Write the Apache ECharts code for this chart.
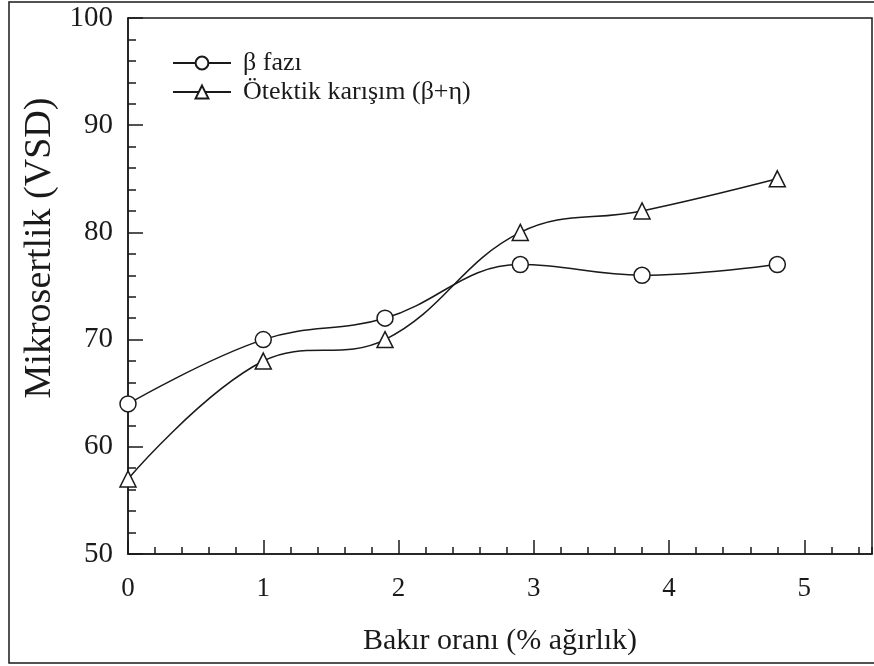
<!DOCTYPE html>
<html>
<head>
<meta charset="utf-8">
<script src="https://cdn.jsdelivr.net/npm/echarts@6/dist/echarts.min.js"></script>
<style>html,body{margin:0;padding:0;background:#fff;}#c{width:874px;height:666px;}</style>
</head>
<body>
<div id="c"></div>
<script>
const xValues = [0, 1, 1.9, 2.9, 3.8, 4.8];
const betaValues = [64, 70, 72, 77, 76, 77];
const eutecticValues = [57, 68, 70, 80, 82, 85];
const seriesNames = ['β fazı', 'Ötektik karışım (β+η)'];
const xTitle = 'Bakır oranı (% ağırlık)';
const yTitle = 'Mikrosertlik (VSD)';

const FONT = 'Liberation Serif';
const INK = '#1a1a1a';
const chart = echarts.init(document.getElementById('c'), null, {renderer: 'canvas'});

function pairs(ys) { return xValues.map((x, i) => [x, ys[i]]); }

const lineStyle = {color: INK, width: 1.5};
const itemStyle = {color: '#fff', borderColor: INK, borderWidth: 1.5};

chart.setOption({
  backgroundColor: '#fff',
  animation: false,
  grid: {left: 128, right: 2, top: 18, bottom: 112, show: true, borderColor: INK, borderWidth: 1.5, backgroundColor: 'transparent'},
  legend: {
    orient: 'vertical', left: 172, top: 50, padding: 0, itemWidth: 58, itemHeight: 16, itemGap: 3,
    textStyle: {fontFamily: FONT, fontSize: 26, color: INK, padding: [0, 0, 0, 7]},
    data: seriesNames
  },
  xAxis: [{
    type: 'value', min: 0, max: 5.5, interval: 1,
    axisLine: {show: true, lineStyle: {color: INK, width: 1.5}},
    axisTick: {show: true, inside: true, length: 14, lineStyle: {color: INK, width: 1.5}},
    minorTick: {show: false},
    splitLine: {show: false},
    axisLabel: {fontFamily: FONT, fontSize: 27, color: INK, margin: 21, showMaxLabel: false},
    name: xTitle, nameLocation: 'middle', nameGap: 72,
    nameTextStyle: {fontFamily: FONT, fontSize: 30, color: INK}
  }, {
    type: 'value', min: 0, max: 5.5, interval: 0.2, position: 'bottom',
    axisLine: {show: false},
    axisTick: {show: true, inside: true, length: 7, lineStyle: {color: INK, width: 1.5}},
    splitLine: {show: false},
    axisLabel: {show: false}
  }],
  yAxis: {
    type: 'value', min: 50, max: 100, interval: 10,
    axisLine: {show: true, lineStyle: {color: INK, width: 1.5}},
    axisTick: {show: true, inside: true, length: 15, lineStyle: {color: INK, width: 1.5}},
    minorTick: {show: true, splitNumber: 5, length: 8, lineStyle: {color: INK, width: 1.5}},
    splitLine: {show: false},
    axisLabel: {fontFamily: FONT, fontSize: 29, color: INK, margin: 15}
  },
  graphic: [
    {type: 'rect', shape: {x: 9, y: 2, width: 870, height: 661}, style: {fill: 'none', stroke: INK, lineWidth: 1.5}, silent: true, z: -1},
    {type: 'text', x: 40, y: 248, rotation: Math.PI / 2,
     style: {text: yTitle, fontFamily: FONT, fontSize: 38, fill: INK, textAlign: 'center', textVerticalAlign: 'middle'}}
  ],
  series: [{
    name: seriesNames[0], type: 'line', data: pairs(betaValues), smooth: 0.4,
    symbol: 'circle', symbolSize: 16, lineStyle: lineStyle, itemStyle: itemStyle, z: 3
  }, {
    name: seriesNames[1], type: 'line', data: pairs(eutecticValues), smooth: 0.4,
    symbol: 'triangle', symbolSize: 16, lineStyle: lineStyle, itemStyle: itemStyle, z: 3
  }]
});
</script>
</body>
</html>
